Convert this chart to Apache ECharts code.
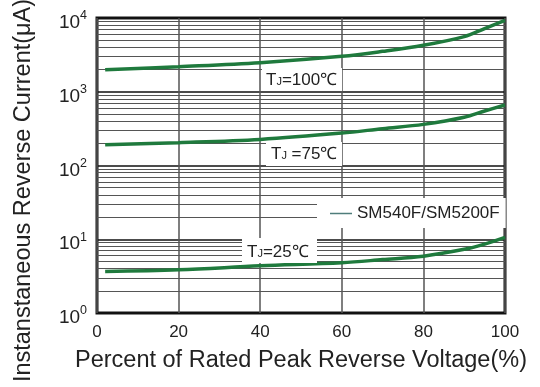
<!DOCTYPE html>
<html>
<head>
<meta charset="utf-8">
<script src="https://cdn.jsdelivr.net/npm/echarts@6/dist/echarts.min.js"></script>
<style>
html,body{margin:0;padding:0;background:#fff;}
#chart{width:540px;height:387px;}
</style>
</head>
<body>
<div id="chart"></div>
<script>
// ---- data ----
var seriesName = 'SM540F/SM5200F';
var voltagePct = [2, 20, 40, 60, 70, 80, 90, 95, 100];
var current100 = [1990, 2190, 2480, 3020, 3530, 4270, 5600, 7200, 9300];
var current75  = [191, 204, 226, 275, 316, 361, 450, 548, 661];
var current25  = [3.65, 3.85, 4.36, 4.8, 5.3, 5.9, 7.3, 8.6, 10.6];
var xTicks = [0, 20, 40, 60, 80, 100];
var yDecades = [1, 10, 100, 1000, 10000];
var minorMantissas = [2, 3, 4, 5, 6, 7, 8, 9];
var labels100 = ['T', 'J', '=100℃'];
var labels75 = ['T', 'J', ' =75℃'];
var labels25 = ['T', 'J', '=25℃'];
var xName = 'Percent of Rated Peak Reverse Voltage(%)';
var yName = 'Instanstaneous Reverse Current(μA)';

var FONT = '"Liberation Sans", Arial, Helvetica, sans-serif';
var GREEN = '#1f7a3d';

function pairs(xs, ys){ return xs.map(function(x,i){ return [x, ys[i]]; }); }

var minorVals = [];
yDecades.slice(0, -1).forEach(function(d){
  minorMantissas.forEach(function(m){ minorVals.push(m * d); });
});

function curve(data){
  return {
    name: seriesName, type: 'line', data: pairs(voltagePct, data),
    smooth: 0.35, showSymbol: false, symbol: 'none', z: 10,
    lineStyle: { color: GREEN, width: 3.5 }, itemStyle: { color: GREEN }
  };
}

function tjLabel(parts, rect, tx, ty){
  return [
    { type: 'rect', z: 100, silent: true,
      shape: rect, style: { fill: '#fff' } },
    { type: 'text', z: 101, silent: true, x: tx, y: ty,
      style: {
        text: '{t|' + parts[0] + '}{j|' + parts[1] + '}{t|' + parts[2] + '}',
        rich: {
          t: { fontSize: 17, fontFamily: FONT, fill: '#222', verticalAlign: 'bottom' },
          j: { fontSize: 11, fontFamily: FONT, fill: '#222', verticalAlign: 'bottom', padding: [0, 0, 1, 0] }
        },
        verticalAlign: 'middle', align: 'left'
      } }
  ];
}

var chart = echarts.init(document.getElementById('chart'), null, { renderer: 'canvas' });
var option = {
  animation: false,
  backgroundColor: '#fff',
  grid: { left: 97, right: 35, top: 18, bottom: 74, show: true, containLabel: false,
          outerBoundsMode: 'none',
          borderColor: '#151515', borderWidth: 3, backgroundColor: 'transparent' },
  xAxis: {
    type: 'value', min: 0, max: 100, interval: 20,
    name: xName, nameLocation: 'middle', nameGap: 36,
    nameTextStyle: { fontSize: 23.5, fontFamily: FONT, color: '#222' },
    axisLine: { show: false }, axisTick: { show: false },
    axisLabel: { fontSize: 17, fontFamily: FONT, color: '#222', margin: 11,
      formatter: function(v){ return xTicks.indexOf(v) >= 0 ? String(v) : ''; } },
    splitLine: { show: true, lineStyle: { color: '#555', width: 1.5 } }
  },
  yAxis: {
    type: 'log', logBase: 10, min: 1, max: 10000,
    name: yName, nameLocation: 'middle', nameGap: 61, nameRotate: 90,
    nameTextStyle: { fontSize: 23.5, fontFamily: FONT, color: '#222', padding: [0, 50, 0, 0] },
    axisLine: { show: false }, axisTick: { show: false },
    axisLabel: {
      margin: 10, color: '#222',
      formatter: function(v){
        var e = Math.round(Math.log(v) / Math.LN10);
        return '{b|10}{s|' + e + '}';
      },
      rich: {
        b: { fontSize: 19, fontFamily: FONT, color: '#222', verticalAlign: 'bottom', padding: [10, 0, 0, 0] },
        s: { fontSize: 12.5, fontFamily: FONT, color: '#222', verticalAlign: 'bottom', padding: [0, 0, 10, 0] }
      }
    },
    splitLine: { show: true, lineStyle: { color: '#111', width: 1.5 } }
  },
  legend: {
    data: [seriesName], left: 317, top: 198, z: 200,
    backgroundColor: '#fff', padding: [7, 6, 6, 13],
    icon: 'rect', itemWidth: 22, itemHeight: 1.5,
    itemStyle: { color: '#4f7d7b' },
    textStyle: { fontSize: 17, fontFamily: FONT, color: '#222' },
    selectedMode: false
  },
  series: [
    { name: seriesName, type: 'line', data: [], silent: true, z: 1,
      markLine: { z: 1, silent: true, symbol: ['none', 'none'], label: { show: false },
        lineStyle: { color: '#555', width: 1.2, type: 'solid' },
        data: minorVals.map(function(v){ return { yAxis: v }; }) } },
    curve(current100),
    curve(current75),
    curve(current25)
  ],
  graphic: [].concat(
    tjLabel(labels100, { x: 262, y: 68, width: 80, height: 23 }, 266, 80),
    tjLabel(labels75, { x: 266, y: 142, width: 76, height: 24 }, 271, 154),
    tjLabel(labels25, { x: 242, y: 238, width: 75, height: 25 }, 247, 252)
  )
};
chart.setOption(option);
</script>
</body>
</html>
